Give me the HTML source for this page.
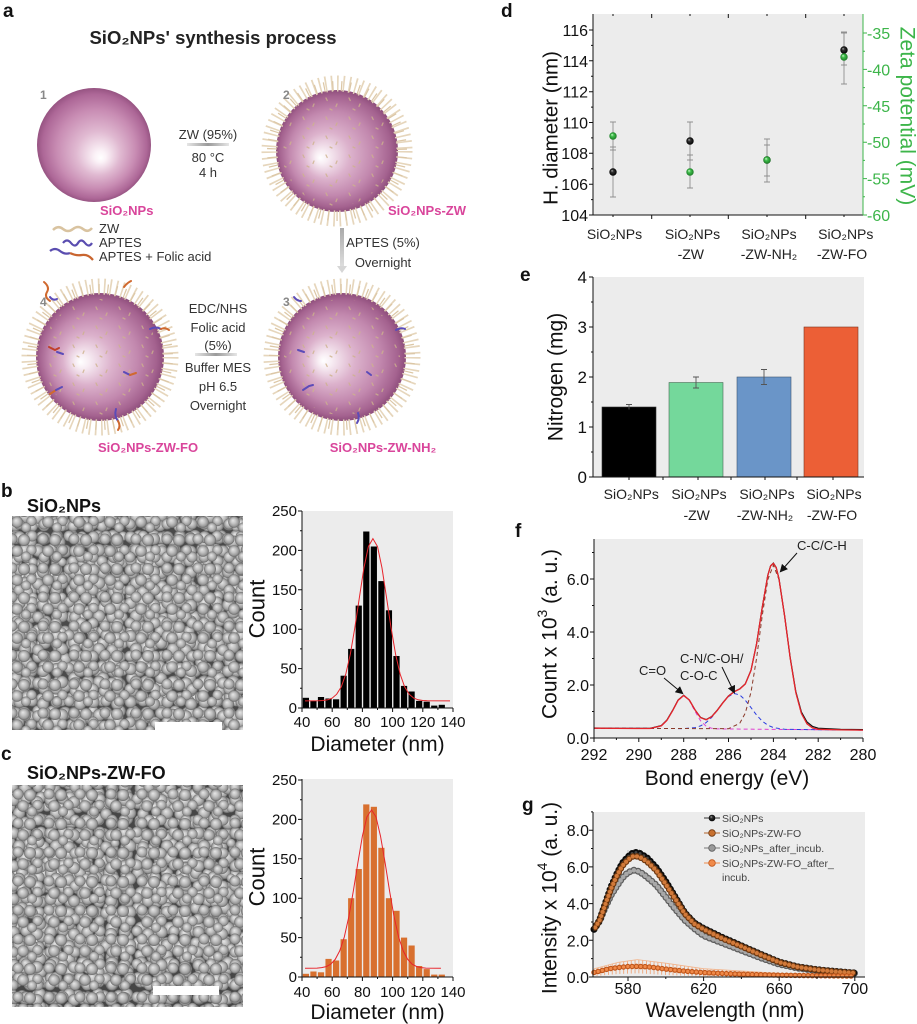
<!DOCTYPE html>
<html><head><meta charset="utf-8"><style>
html,body{margin:0;padding:0;background:#fff;}
svg{display:block;}
text{font-family:"Liberation Sans","DejaVu Sans",Arial,sans-serif;}
</style></head><body>
<svg width="917" height="1024" viewBox="0 0 917 1024" xmlns="http://www.w3.org/2000/svg">
<defs>
 <radialGradient id="s1" gradientUnits="userSpaceOnUse" cx="94" cy="145" r="58" fx="101" fy="158">
  <stop offset="0" stop-color="#ffffff"/><stop offset=".1" stop-color="#fbf2f7"/><stop offset=".38" stop-color="#e0b9d1"/><stop offset=".68" stop-color="#c88cb3"/><stop offset=".9" stop-color="#ad6797"/><stop offset="1" stop-color="#92507e"/>
 </radialGradient>
 <radialGradient id="s2" gradientUnits="userSpaceOnUse" cx="337" cy="151" r="62" fx="320" fy="158">
  <stop offset="0" stop-color="#ffffff"/><stop offset=".1" stop-color="#f8eef4"/><stop offset=".38" stop-color="#dcb2cc"/><stop offset=".68" stop-color="#c288ae"/><stop offset=".9" stop-color="#a4628f"/><stop offset="1" stop-color="#8a4a78"/>
 </radialGradient>
 <radialGradient id="s3" gradientUnits="userSpaceOnUse" cx="342" cy="357" r="65" fx="323" fy="361">
  <stop offset="0" stop-color="#ffffff"/><stop offset=".1" stop-color="#f8eef4"/><stop offset=".38" stop-color="#dcb2cc"/><stop offset=".68" stop-color="#c288ae"/><stop offset=".9" stop-color="#a4628f"/><stop offset="1" stop-color="#8a4a78"/>
 </radialGradient>
 <radialGradient id="s4" gradientUnits="userSpaceOnUse" cx="100" cy="357" r="65" fx="80" fy="362">
  <stop offset="0" stop-color="#ffffff"/><stop offset=".1" stop-color="#f8eef4"/><stop offset=".38" stop-color="#dcb2cc"/><stop offset=".68" stop-color="#c288ae"/><stop offset=".9" stop-color="#a4628f"/><stop offset="1" stop-color="#8a4a78"/>
 </radialGradient>
 <pattern id="speck" width="23" height="19" patternUnits="userSpaceOnUse">
  <path d="M4,3 l1.2,2.5 M15,9 l-1,2.5 M8,14 l2,1" stroke="#cdb28c" stroke-width="1.3" stroke-linecap="round" fill="none"/>
 </pattern>
 <linearGradient id="hb" x1="0" x2="1" y1="0" y2="0">
  <stop offset="0" stop-color="#e6e6e6"/><stop offset=".5" stop-color="#9a9a9a"/><stop offset="1" stop-color="#e6e6e6"/>
 </linearGradient>
 <linearGradient id="vb" x1="0" x2="0" y1="0" y2="1">
  <stop offset="0" stop-color="#aaaaaa"/><stop offset="1" stop-color="#dddddd"/>
 </linearGradient>
 <radialGradient id="semg" cx=".5" cy=".5" r=".5" fx=".4" fy=".36">
  <stop offset="0" stop-color="#e6e6e6"/><stop offset=".45" stop-color="#c2c2c2"/><stop offset=".8" stop-color="#999"/><stop offset="1" stop-color="#666"/>
 </radialGradient>
 <pattern id="p1" width="31" height="29" patternUnits="userSpaceOnUse">
  <circle cx="6" cy="6" r="5.5" fill="url(#semg)"/><circle cx="18" cy="7" r="6" fill="url(#semg)"/><circle cx="25.5" cy="17" r="5.2" fill="url(#semg)"/><circle cx="11" cy="18" r="5.8" fill="url(#semg)"/><circle cx="20" cy="23.5" r="5" fill="url(#semg)"/>
 </pattern>
 <pattern id="p2" width="37" height="33" patternUnits="userSpaceOnUse">
  <circle cx="6.5" cy="7" r="6" fill="url(#semg)"/><circle cx="19" cy="6" r="5.5" fill="url(#semg)"/><circle cx="30" cy="9" r="6" fill="url(#semg)"/><circle cx="12" cy="20" r="6.2" fill="url(#semg)"/><circle cx="25" cy="21" r="5.8" fill="url(#semg)"/><circle cx="6" cy="27" r="5.5" fill="url(#semg)"/><circle cx="31" cy="27" r="5.5" fill="url(#semg)"/>
 </pattern>
 <pattern id="p3" width="29" height="35" patternUnits="userSpaceOnUse">
  <circle cx="7" cy="6" r="6" fill="url(#semg)"/><circle cx="21" cy="10" r="6.5" fill="url(#semg)"/><circle cx="8" cy="19" r="5.5" fill="url(#semg)"/><circle cx="18" cy="25" r="6" fill="url(#semg)"/><circle cx="6" cy="29" r="5.5" fill="url(#semg)"/><circle cx="24" cy="30" r="4.5" fill="url(#semg)"/>
 </pattern>
 <pattern id="p4" width="41" height="27" patternUnits="userSpaceOnUse">
  <circle cx="6" cy="6" r="5.5" fill="url(#semg)"/><circle cx="19" cy="8" r="6.5" fill="url(#semg)"/><circle cx="33" cy="6" r="5.8" fill="url(#semg)"/><circle cx="11" cy="20" r="6" fill="url(#semg)"/><circle cx="26" cy="20" r="6.2" fill="url(#semg)"/><circle cx="36" cy="20" r="4.8" fill="url(#semg)"/>
 </pattern>
 <radialGradient id="bb" cx=".5" cy=".5" r=".5" fx=".35" fy=".3">
  <stop offset="0" stop-color="#bbbbbb"/><stop offset=".35" stop-color="#333"/><stop offset="1" stop-color="#000"/>
 </radialGradient>
 <radialGradient id="gb" cx=".5" cy=".5" r=".5" fx=".35" fy=".3">
  <stop offset="0" stop-color="#d8f8d8"/><stop offset=".4" stop-color="#40c04c"/><stop offset="1" stop-color="#1c7a26"/>
 </radialGradient>
 <pattern id="vl" width="3.8" height="10" patternUnits="userSpaceOnUse">
  <rect x="0" y="0" width="0.9" height="10" fill="#eea57a"/>
 </pattern>
 <marker id="ah" markerWidth="8" markerHeight="8" refX="6" refY="4" orient="auto" markerUnits="userSpaceOnUse">
  <path d="M0,0 L8,4 L0,8 z" fill="#111"/>
 </marker>
</defs>
<rect width="917" height="1024" fill="#fff"/>

<!-- ================= PANEL A ================= -->
<text x="3" y="17" font-size="19" font-weight="bold" fill="#111">a</text>
<text x="213" y="44" font-size="18.5" font-weight="bold" fill="#222" text-anchor="middle">SiO₂NPs' synthesis process</text>

<!-- sphere 1 -->
<circle cx="94" cy="145" r="57" fill="url(#s1)"/>
<text x="40" y="99" font-size="12" font-weight="bold" fill="#888">1</text>

<!-- arrow 1->2 -->
<text x="208" y="139" font-size="13" fill="#333" text-anchor="middle">ZW (95%)</text>
<rect x="187" y="143" width="42" height="3" fill="url(#hb)"/>
<text x="208" y="162" font-size="13" fill="#333" text-anchor="middle">80 °C</text>
<text x="208" y="177" font-size="13" fill="#333" text-anchor="middle">4 h</text>

<!-- sphere 2 -->
<circle cx="337" cy="151" r="61" fill="url(#s2)"/>
<circle cx="337" cy="151" r="55" fill="url(#speck)" opacity=".8"/>
<circle cx="337" cy="151" r="67.5" fill="none" stroke="#e6d6bc" stroke-width="16" stroke-dasharray="1.6 4.4"/>
<circle cx="337" cy="151" r="65" fill="none" stroke="#dcc7a6" stroke-width="10" stroke-dasharray="1.2 7.5" stroke-dashoffset="3"/>
<text x="283" y="99" font-size="12" font-weight="bold" fill="#888">2</text>

<text x="100" y="215" font-size="13" font-weight="bold" fill="#d9459b">SiO₂NPs</text>
<text x="388" y="215" font-size="13" font-weight="bold" fill="#d9459b">SiO₂NPs-ZW</text>

<!-- legend -->
<path d="M53,230 q5,-5 10,-1 t10,0 t10,0 t9,-1" fill="none" stroke="#d9c3a0" stroke-width="2.5"/>
<text x="99" y="233" font-size="13" fill="#333">ZW</text>
<path d="M63,243 q4,-5 8,0 t7,0 t7,0 t7,0" fill="none" stroke="#5a4db0" stroke-width="2.2"/>
<text x="99" y="247" font-size="13" fill="#333">APTES</text>
<path d="M50,251 q5,-4 10,0 t10,2" fill="none" stroke="#5a4db0" stroke-width="2.2"/>
<path d="M70,253 q6,3 12,2 t11,5" fill="none" stroke="#c9652f" stroke-width="2.2"/>
<text x="99" y="261" font-size="13" fill="#333">APTES + Folic acid</text>

<!-- vertical arrow 2->3 -->
<rect x="340" y="228" width="4" height="38" fill="url(#vb)"/>
<path d="M337,266 L347,266 L342,273 z" fill="#d6d6d6"/>
<text x="383" y="247" font-size="13" fill="#333" text-anchor="middle">APTES (5%)</text>
<text x="383" y="267" font-size="13" fill="#333" text-anchor="middle">Overnight</text>

<!-- sphere 4 -->
<circle cx="100" cy="357" r="64" fill="url(#s4)"/>
<circle cx="100" cy="357" r="58" fill="url(#speck)" opacity=".8"/>
<circle cx="100" cy="357" r="70.5" fill="none" stroke="#e6d6bc" stroke-width="16" stroke-dasharray="1.6 4.4"/>
<circle cx="100" cy="357" r="68" fill="none" stroke="#dcc7a6" stroke-width="10" stroke-dasharray="1.2 7.5" stroke-dashoffset="3"/>
<g fill="none" stroke-width="2" stroke-linecap="round">
 <path d="M44,282 q6,5 3,10 q-3,5 3,9" stroke="#d0692f"/>
 <path d="M50,297 q3,4 7,2" stroke="#5b4bb8"/>
 <path d="M124,287 q3,-4 7,-6" stroke="#d0692f"/>
 <path d="M150,329 q6,-3 11,0" stroke="#5b4bb8"/>
 <path d="M161,329 q4,-2 8,1" stroke="#d0692f"/>
 <path d="M49,347 l6,3 l4,-2" stroke="#c0402a"/>
 <path d="M57,352 l6,2" stroke="#5b4bb8"/>
 <path d="M124,372 l6,3" stroke="#5b4bb8"/><path d="M130,375 l6,-2" stroke="#d0692f"/>
 <path d="M50,394 l6,-4" stroke="#d0692f"/><path d="M56,390 l6,-3" stroke="#5b4bb8"/>
 <path d="M116,409 q-2,7 2,12" stroke="#5b4bb8"/><path d="M118,421 q3,5 0,9" stroke="#d0692f"/>
</g>
<text x="40" y="306" font-size="12" font-weight="bold" fill="#888">4</text>

<!-- arrow 3->4 text -->
<text x="218" y="313" font-size="13" fill="#333" text-anchor="middle">EDC/NHS</text>
<text x="218" y="332" font-size="13" fill="#333" text-anchor="middle">Folic acid</text>
<text x="218" y="350" font-size="13" fill="#333" text-anchor="middle">(5%)</text>
<rect x="195" y="353" width="42" height="3" fill="url(#hb)"/>
<text x="218" y="372" font-size="13" fill="#333" text-anchor="middle">Buffer MES</text>
<text x="218" y="391" font-size="13" fill="#333" text-anchor="middle">pH 6.5</text>
<text x="218" y="410" font-size="13" fill="#333" text-anchor="middle">Overnight</text>

<!-- sphere 3 -->
<circle cx="342" cy="357" r="64" fill="url(#s3)"/>
<circle cx="342" cy="357" r="58" fill="url(#speck)" opacity=".8"/>
<circle cx="342" cy="357" r="70.5" fill="none" stroke="#e6d6bc" stroke-width="16" stroke-dasharray="1.6 4.4"/>
<circle cx="342" cy="357" r="68" fill="none" stroke="#dcc7a6" stroke-width="10" stroke-dasharray="1.2 7.5" stroke-dashoffset="3"/>
<g fill="none" stroke="#5b4bb8" stroke-width="2" stroke-linecap="round">
 <path d="M294,297 q3,4 7,4"/>
 <path d="M396,330 q5,-3 9,-1"/>
 <path d="M298,350 l6,2"/>
 <path d="M303,390 l6,-4 l4,-1"/>
 <path d="M367,372 l4,3"/>
 <path d="M358,413 q2,5 -1,10"/>
</g>
<text x="283" y="306" font-size="12" font-weight="bold" fill="#888">3</text>

<text x="148" y="452" font-size="13" font-weight="bold" fill="#d9459b" text-anchor="middle">SiO₂NPs-ZW-FO</text>
<text x="383" y="452" font-size="13" font-weight="bold" fill="#d9459b" text-anchor="middle">SiO₂NPs-ZW-NH₂</text>

<!-- ================= PANEL B ================= -->
<text x="1" y="497" font-size="19" font-weight="bold" fill="#111">b</text>
<text x="27" y="512" font-size="18" font-weight="bold" fill="#111">SiO₂NPs</text>
<rect x="12" y="516" width="231" height="214" fill="#4a4a4a"/>
<rect x="7" y="513" width="231" height="214" transform="translate(5,3)" fill="url(#p4)"/>
<rect x="3" y="509" width="231" height="214" transform="translate(9,7)" fill="url(#p3)"/>
<rect x="-1" y="514" width="231" height="214" transform="translate(13,2)" fill="url(#p2)"/>
<rect x="6" y="505" width="231" height="214" transform="translate(6,11)" fill="url(#p1)"/>
<rect x="155" y="722" width="67" height="8" fill="#fff"/>

<!-- histogram b -->
<rect x="302" y="511" width="151" height="197" fill="#ececec"/>
<g fill="#000">
<rect x="302.8" y="697.8" width="6.2" height="10.2"/><rect x="310.35" y="700.9" width="6.2" height="7.1"/><rect x="317.9" y="697" width="6.2" height="11"/><rect x="325.45" y="698.5" width="6.2" height="9.5"/><rect x="333" y="699.3" width="6.2" height="8.7"/><rect x="340.55" y="675.7" width="6.2" height="32.3"/><rect x="348.1" y="648.9" width="6.2" height="59.1"/><rect x="355.65" y="605.6" width="6.2" height="102.4"/><rect x="363.2" y="531.5" width="6.2" height="176.5"/><rect x="370.75" y="546.5" width="6.2" height="161.5"/><rect x="378.3" y="581.1" width="6.2" height="126.9"/><rect x="385.85" y="610.3" width="6.2" height="97.7"/><rect x="393.4" y="656" width="6.2" height="52"/><rect x="400.95" y="685.9" width="6.2" height="22.1"/><rect x="408.5" y="691.5" width="6.2" height="16.5"/><rect x="416.05" y="700.9" width="6.2" height="7.1"/><rect x="423.6" y="701.7" width="6.2" height="6.3"/><rect x="431.15" y="705.6" width="6.2" height="2.4"/><rect x="438.7" y="704.8" width="6.2" height="3.2"/>
</g>
<polyline fill="none" stroke="#e8242b" stroke-width="1" points="305,700.9 318.6,700.7 323.1,700.5 327.7,699.8 332.2,698.1 336.7,694.2 341.3,686.8 345.8,674 350.3,654.3 354.8,627.9 359.4,597.4 363.9,568 368.4,546.5 372.9,538.6 377.5,546.5 382,568 386.5,597.4 391.1,627.9 395.6,654.3 400.1,674 404.6,686.8 409.2,694.2 413.7,698.1 418.2,699.8 422.8,700.5 427.3,700.7 450,700.9"/>
<g stroke="#111" stroke-width="1" fill="none">
 <path d="M302,511 V708 H453"/>
 <path d="M302,708 v4 M332.2,708 v4 M362.4,708 v4 M392.6,708 v4 M422.8,708 v4 M453,708 v4 M317.1,708 v2 M347.3,708 v2 M377.5,708 v2 M407.7,708 v2 M437.9,708 v2"/>
 <path d="M298,708 h4 M298,668.6 h4 M298,629.2 h4 M298,589.8 h4 M298,550.4 h4 M298,511 h4 M300,688.3 h2 M300,648.9 h2 M300,609.5 h2 M300,570.1 h2 M300,530.7 h2"/>
</g>
<g font-size="15" fill="#111" text-anchor="end">
 <text x="297" y="713">0</text><text x="297" y="673.6">50</text><text x="297" y="634.2">100</text><text x="297" y="594.8">150</text><text x="297" y="555.4">200</text><text x="297" y="516">250</text>
</g>
<g font-size="15" fill="#111" text-anchor="middle">
 <text x="302" y="727">40</text><text x="332.2" y="727">60</text><text x="362.4" y="727">80</text><text x="392.6" y="727">100</text><text x="422.8" y="727">120</text><text x="453" y="727">140</text>
</g>
<text x="377.5" y="751" font-size="21" fill="#111" text-anchor="middle">Diameter (nm)</text>
<text transform="translate(257,609) rotate(-90)" font-size="22" fill="#111" text-anchor="middle" dominant-baseline="central">Count</text>

<!-- ================= PANEL C ================= -->
<text x="1" y="760" font-size="19" font-weight="bold" fill="#111">c</text>
<text x="27" y="779" font-size="18" font-weight="bold" fill="#111">SiO₂NPs-ZW-FO</text>
<rect x="12" y="785" width="231" height="222" fill="#464646"/>
<rect x="1" y="781" width="231" height="222" transform="translate(11,4)" fill="url(#p4)"/>
<rect x="8" y="777" width="231" height="222" transform="translate(4,8)" fill="url(#p3)"/>
<rect x="5" y="784" width="231" height="222" transform="translate(7,1)" fill="url(#p2)"/>
<rect x="0" y="780" width="231" height="222" transform="translate(12,5)" fill="url(#p1)"/>
<rect x="153" y="986" width="66" height="9" fill="#fff"/>

<!-- histogram c -->
<rect x="302" y="779" width="151" height="198" fill="#ececec"/>
<g fill="#d8702f">
<rect x="302.8" y="973.8" width="6.2" height="3.2"/><rect x="310.35" y="971.5" width="6.2" height="5.5"/><rect x="317.9" y="972.3" width="6.2" height="4.7"/><rect x="325.45" y="958.9" width="6.2" height="18.1"/><rect x="333" y="960.5" width="6.2" height="16.5"/><rect x="340.55" y="939.2" width="6.2" height="37.8"/><rect x="348.1" y="898.2" width="6.2" height="78.8"/><rect x="355.65" y="869" width="6.2" height="108"/><rect x="363.2" y="804.4" width="6.2" height="172.6"/><rect x="370.75" y="806.8" width="6.2" height="170.2"/><rect x="378.3" y="847.8" width="6.2" height="129.2"/><rect x="385.85" y="898.2" width="6.2" height="78.8"/><rect x="393.4" y="910.8" width="6.2" height="66.2"/><rect x="400.95" y="937.6" width="6.2" height="39.4"/><rect x="408.5" y="945.5" width="6.2" height="31.5"/><rect x="416.05" y="966" width="6.2" height="11"/><rect x="423.6" y="969.1" width="6.2" height="7.9"/><rect x="431.15" y="974.6" width="6.2" height="2.4"/><rect x="438.7" y="974.6" width="6.2" height="2.4"/>
</g>
<polyline fill="none" stroke="#e8242b" stroke-width="1" points="305,968.3 317.1,968.1 321.6,967.6 326.2,966.6 330.7,964.2 335.2,959.4 339.7,950.9 344.3,937 348.8,916.9 353.3,891.2 357.9,862.7 362.4,836.1 366.9,816.9 371.5,809.9 376,816.9 380.5,836.1 385.1,862.7 389.6,891.2 394.1,916.9 398.6,937 403.2,950.9 407.7,959.4 412.2,964.2 416.8,966.6 421.3,967.6 425.8,968.1 440.9,968.3"/>
<g stroke="#111" stroke-width="1" fill="none">
 <path d="M302,779 V977 H453"/>
 <path d="M302,977 v4 M332.2,977 v4 M362.4,977 v4 M392.6,977 v4 M422.8,977 v4 M453,977 v4 M317.1,977 v2 M347.3,977 v2 M377.5,977 v2 M407.7,977 v2 M437.9,977 v2"/>
 <path d="M298,977 h4 M298,937.6 h4 M298,898.2 h4 M298,858.8 h4 M298,819.4 h4 M298,780 h4 M300,957.3 h2 M300,917.9 h2 M300,878.5 h2 M300,839.1 h2 M300,799.7 h2"/>
</g>
<g font-size="15" fill="#111" text-anchor="end">
 <text x="297" y="982">0</text><text x="297" y="942.6">50</text><text x="297" y="903.2">100</text><text x="297" y="863.8">150</text><text x="297" y="824.4">200</text><text x="297" y="785">250</text>
</g>
<g font-size="15" fill="#111" text-anchor="middle">
 <text x="302" y="997">40</text><text x="332.2" y="997">60</text><text x="362.4" y="997">80</text><text x="392.6" y="997">100</text><text x="422.8" y="997">120</text><text x="453" y="997">140</text>
</g>
<text x="377.5" y="1019" font-size="21" fill="#111" text-anchor="middle">Diameter (nm)</text>
<text transform="translate(257,877) rotate(-90)" font-size="22" fill="#111" text-anchor="middle" dominant-baseline="central">Count</text>

<!-- ================= PANEL D ================= -->
<text x="501" y="17" font-size="19" font-weight="bold" fill="#111">d</text>
<rect x="593" y="14" width="270" height="201" fill="#ececec"/>
<g stroke="#111" stroke-width="1" fill="none">
 <path d="M593,14 V215 H863"/>
 <path d="M589,215 h4 M589,184.2 h4 M589,153.3 h4 M589,122.5 h4 M589,91.7 h4 M589,60.8 h4 M589,30 h4 M591,199.6 h2 M591,168.7 h2 M591,137.9 h2 M591,107.1 h2 M591,76.2 h2 M591,45.4 h2"/>
 <path d="M651.7,215 v4 M728.3,215 v4 M805.7,215 v4 M613,215 v2 M690,215 v2 M767,215 v2 M844,215 v2"/>
 <path d="M651.7,14 v4 M728.3,14 v4 M805.7,14 v4 M613,14 v2 M690,14 v2 M767,14 v2 M844,14 v2"/>
</g>
<g stroke="#3db54a" stroke-width="1" fill="none">
 <path d="M863,14 V215"/>
 <path d="M863,33 h4 M863,69.4 h4 M863,105.8 h4 M863,142.2 h4 M863,178.6 h4 M863,215 h4 M863,51.2 h2 M863,87.6 h2 M863,124 h2 M863,160.4 h2 M863,196.8 h2"/>
</g>
<g stroke="#8f8f8f" stroke-width="0.9" fill="none">
 <path d="M613,147 V197 M610,147 h6 M610,197 h6"/>
 <path d="M613,122 V150 M610,122 h6 M610,150 h6"/>
 <path d="M690,122 V160 M687,122 h6 M687,160 h6"/>
 <path d="M690,155 V188 M687,155 h6 M687,188 h6"/>
 <path d="M767,145 V176 M764,145 h6 M764,176 h6"/>
 <path d="M767,139 V182 M764,139 h6 M764,182 h6"/>
 <path d="M844,32 V65 M841,32 h6 M841,65 h6"/>
 <path d="M844,33 V84 M841,33 h6 M841,84 h6"/>
</g>
<circle cx="613" cy="172" r="3.7" fill="url(#bb)"/>
<circle cx="690" cy="141" r="3.7" fill="url(#bb)"/>
<circle cx="767" cy="160" r="3.7" fill="url(#bb)"/>
<circle cx="844" cy="50" r="3.7" fill="url(#bb)"/>
<circle cx="613" cy="136" r="3.7" fill="url(#gb)"/>
<circle cx="690" cy="172" r="3.7" fill="url(#gb)"/>
<circle cx="767" cy="160" r="3.7" fill="url(#gb)"/>
<circle cx="844" cy="57" r="3.7" fill="url(#gb)"/>
<g font-size="16" fill="#111" text-anchor="end">
 <text x="588" y="221">104</text><text x="588" y="190">106</text><text x="588" y="159">108</text><text x="588" y="128.5">110</text><text x="588" y="97.7">112</text><text x="588" y="66.8">114</text><text x="588" y="36">116</text>
</g>
<g font-size="16" fill="#3db54a">
 <text x="867" y="39">-35</text><text x="867" y="75.4">-40</text><text x="867" y="111.8">-45</text><text x="867" y="148.2">-50</text><text x="867" y="184.6">-55</text><text x="867" y="221">-60</text>
</g>
<text transform="translate(551,128) rotate(-90)" font-size="20.5" fill="#111" text-anchor="middle" dominant-baseline="central">H. diameter (nm)</text>
<text transform="translate(907,116) rotate(90)" font-size="21" fill="#3db54a" text-anchor="middle" dominant-baseline="central">Zeta potential (mV)</text>
<g font-size="14" fill="#222" text-anchor="middle">
 <text x="614.5" y="239">SiO₂NPs</text><text x="692.5" y="239">SiO₂NPs</text><text x="769" y="239">SiO₂NPs</text><text x="845.8" y="239">SiO₂NPs</text>
 <text x="690.8" y="259">-ZW</text><text x="769" y="259">-ZW-NH₂</text><text x="842" y="259">-ZW-FO</text>
</g>

<!-- ================= PANEL E ================= -->
<text x="520" y="281" font-size="19" font-weight="bold" fill="#111">e</text>
<rect x="593" y="277" width="271" height="200" fill="#ececec"/>
<rect x="602" y="407" width="54" height="70" fill="#000" stroke="#333" stroke-width=".6"/>
<rect x="669" y="382.5" width="54" height="94.5" fill="#74d89b" stroke="#4a6a55" stroke-width=".6"/>
<rect x="737" y="377" width="54" height="100" fill="#6a95c8" stroke="#3e5570" stroke-width=".6"/>
<rect x="804" y="327" width="54" height="150" fill="#ec5f36" stroke="#7a3520" stroke-width=".6"/>
<g stroke="#555" stroke-width="0.9" fill="none">
 <path d="M629,404.5 V409.5 M626,404.5 h6"/>
 <path d="M696,377 V388 M693,377 h6 M693,388 h6"/>
 <path d="M764,369.5 V384.5 M761,369.5 h6 M761,384.5 h6"/>
</g>
<g stroke="#111" stroke-width="1" fill="none">
 <path d="M593,277 V477 H864"/>
 <path d="M589,477 h4 M589,427 h4 M589,377 h4 M589,327 h4 M589,277 h4 M591,452 h2 M591,402 h2 M591,352 h2 M591,302 h2"/>
 <path d="M629,477 v3 M663,477 v3 M698,477 v3 M731,477 v3 M765,477 v3 M797,477 v3 M833,477 v3"/>
</g>
<g font-size="17" fill="#111" text-anchor="end">
 <text x="587" y="483">0</text><text x="587" y="433">1</text><text x="587" y="383">2</text><text x="587" y="333">3</text><text x="587" y="283">4</text>
</g>
<text transform="translate(556,377) rotate(-90)" font-size="21" fill="#111" text-anchor="middle" dominant-baseline="central">Nitrogen (mg)</text>
<g font-size="14" fill="#222" text-anchor="middle">
 <text x="631.3" y="499">SiO₂NPs</text><text x="699" y="499">SiO₂NPs</text><text x="767" y="499">SiO₂NPs</text><text x="834" y="499">SiO₂NPs</text>
 <text x="696.7" y="520">-ZW</text><text x="765" y="520">-ZW-NH₂</text><text x="832" y="520">-ZW-FO</text>
</g>

<!-- ================= PANEL F ================= -->
<text x="515" y="537" font-size="19" font-weight="bold" fill="#111">f</text>
<rect x="594" y="539" width="269" height="199" fill="#ececec"/>
<polyline fill="none" stroke="#e040d0" stroke-width="1" stroke-dasharray="4 3" points="594,728.2 650.1,728.5 661.3,725.9 666.9,720.4 672.5,710.9 678.1,700.4 683.7,695.7 689.3,700.4 694.9,711 700.5,720.7 706.1,726.2 711.7,728.3 717.3,728.9 863,730.1"/>
<polyline fill="none" stroke="#2a3de0" stroke-width="1" stroke-dasharray="4 3" points="594,728.2 683.7,728.6 694.9,727.6 700.5,725.9 706.1,722.6 711.7,717.4 717.3,710.4 722.9,702.8 728.5,696.5 734.1,693.5 739.7,694.9 745.3,700.2 751,707.6 756.6,715.1 762.2,721.1 767.8,725.2 773.4,727.6 784.6,729.3 818.2,729.7 863,730.1"/>
<polyline fill="none" stroke="#8a3a2a" stroke-width="1" stroke-dasharray="4 3" points="594,728.2 728.5,728.7 739.7,723.4 745.3,713.1 751,692.2 756.6,658.1 762.2,616 767.8,579.7 773.4,565.1 779,579.7 784.6,616.2 790.2,658.3 795.8,692.5 801.4,713.5 807,723.8 812.6,728 818.2,729.3 863,730.1"/>
<polyline fill="none" stroke="#111" stroke-width="1.2" points="594,728 616.4,728.3 638.8,728.4 650.1,728.3 661.3,725.6 666.9,720 672.5,710.6 678.1,700 683.7,695.3 689.3,700 694.9,709.7 700.5,717.4 706.1,719.6 711.7,716.5 717.3,710.1 722.9,702.6 728.5,695.9 734.1,691.6 739.7,688.9 745.3,683.8 751,670.2 756.6,643.6 762.2,607.6 767.8,575.3 770.6,565.8 773.4,563.1 776.2,567.5 779,578.8 784.6,615.7 790.2,657.6 795.8,691.5 801.4,712 807,722 812.6,726.5 818.2,728.2 840.6,729.3 863,729.6"/>
<polyline fill="none" stroke="#e8242b" stroke-width="1.3" stroke-linejoin="round" points="594,728.2 616.4,728.4 638.8,728.5 650.1,728.5 661.3,725.9 666.9,720.4 672.5,710.9 678.1,700.3 683.7,695.5 689.3,700 694.9,709.7 700.5,717.6 706.1,719.8 711.7,716.7 717.3,710.3 722.9,702.8 728.5,696.1 734.1,691.8 739.7,689.1 745.3,684 751,670.4 756.6,643.8 762.2,607.8 767.8,575.5 770.6,566 773.4,563.3 776.2,567.7 779,579 784.6,615.9 790.2,658.2 795.8,692.5 801.4,713.5 807,723.8 812.6,728 818.2,729.3 840.6,729.9 863,730.1"/>
<g stroke="#111" stroke-width="1" fill="none">
 <path d="M594,539 V738 H863"/>
 <path d="M590,738 h4 M590,685 h4 M590,632 h4 M590,579 h4 M592,711.5 h2 M592,658.5 h2 M592,605.5 h2 M592,552.5 h2"/>
 <path d="M594,738 v4 M638.8,738 v4 M683.7,738 v4 M728.5,738 v4 M773.4,738 v4 M818.2,738 v4 M863,738 v4 M616.4,738 v2 M661.3,738 v2 M706.1,738 v2 M751,738 v2 M795.8,738 v2 M840.6,738 v2"/>
</g>
<g font-size="16" fill="#111" text-anchor="end">
 <text x="589" y="744">0.0</text><text x="589" y="691">2.0</text><text x="589" y="638">4.0</text><text x="589" y="585">6.0</text>
</g>
<g font-size="16" fill="#111" text-anchor="middle">
 <text x="594" y="760">292</text><text x="638.8" y="760">290</text><text x="683.7" y="760">288</text><text x="728.5" y="760">286</text><text x="773.4" y="760">284</text><text x="818.2" y="760">282</text><text x="863" y="760">280</text>
</g>
<text x="727" y="785" font-size="21" fill="#111" text-anchor="middle">Bond energy (eV)</text>
<text transform="translate(550,634) rotate(-90)" font-size="21" fill="#111" text-anchor="middle" dominant-baseline="central">Count x 10<tspan font-size="14" dy="-8">3</tspan><tspan dy="8"> (a. u.)</tspan></text>
<g font-size="13" fill="#222">
 <text x="797" y="550">C-C/C-H</text>
 <text x="639" y="675">C=O</text>
 <text x="680" y="663">C-N/C-OH/</text>
 <text x="680" y="680">C-O-C</text>
</g>
<g stroke="#111" stroke-width="1" fill="none" marker-end="url(#ah)">
 <path d="M797,553 L781,571"/>
 <path d="M664,678 L682,693"/>
 <path d="M722,667 L734,692"/>
</g>

<!-- ================= PANEL G ================= -->
<text x="522" y="811" font-size="19" font-weight="bold" fill="#111">g</text>
<rect x="593" y="812" width="272" height="165" fill="#ececec"/>
<polygon fill="url(#vl)" points="594,968.7 618.6,962.3 637.5,959.6 665.8,963.2 703.6,968.7 779.2,973.3 854.8,975.2 854.8,977 703.6,976.5 665.8,975 637.5,973.3 618.6,974 594,976.1"/>
<polyline fill="none" stroke="#f2b48c" stroke-width=".8" points="594,968.7 618.6,962.3 637.5,959.6 665.8,963.2 703.6,968.7 779.2,973.3 854.8,975.2"/>
<path d="M628,850 V862 M633.7,849 V856 M639.3,849 V857" stroke="#b0b0b0" stroke-width=".8"/>
<g fill="none" stroke-linecap="round" stroke-linejoin="round">
 <path d="M594,929.3 L599.7,921 L605.3,907.3 L611,895.3 L616.7,886.2 L622.3,877.9 L628,872.4 L633.7,870.2 L639.3,871.5 L646.9,877 L656.4,885.3 L665.8,897.2 L675.3,909.1 L684.7,920.1 L694.2,928.4 L703.6,935.7 L722.5,943.1 L741.4,950.4 L760.3,957.7 L779.2,964.2 L798.1,968.2 L817,970.6 L835.9,972 L854.8,973.3" stroke="#5d5d5d" stroke-width="7" stroke-dasharray="0 4.3"/>
 <path d="M594,929.3 L599.7,921 L605.3,907.3 L611,895.3 L616.7,886.2 L622.3,877.9 L628,872.4 L633.7,870.2 L639.3,871.5 L646.9,877 L656.4,885.3 L665.8,897.2 L675.3,909.1 L684.7,920.1 L694.2,928.4 L703.6,935.7 L722.5,943.1 L741.4,950.4 L760.3,957.7 L779.2,964.2 L798.1,968.2 L817,970.6 L835.9,972 L854.8,973.3" stroke="#a8a8a8" stroke-width="4.5" stroke-dasharray="0 4.3"/>
 <path d="M594,929.3 L599.7,920.1 L605.3,903.6 L611,887.1 L616.7,874.2 L622.3,863.2 L628,856.8 L633.7,852.2 L639.3,853.1 L646.9,857.7 L656.4,867.8 L665.8,881.6 L675.3,897.2 L684.7,912.8 L694.2,922.9 L703.6,928.4 L722.5,937.5 L741.4,945.8 L760.3,954.1 L779.2,962 L798.1,966.9 L817,969.7 L835.9,971.5 L854.8,973" stroke="#0a0a0a" stroke-width="7" stroke-dasharray="0 4.3"/>
 <path d="M594,929.3 L599.7,920.1 L605.3,903.6 L611,887.1 L616.7,874.2 L622.3,863.2 L628,856.8 L633.7,852.2 L639.3,853.1 L646.9,857.7 L656.4,867.8 L665.8,881.6 L675.3,897.2 L684.7,912.8 L694.2,922.9 L703.6,928.4 L722.5,937.5 L741.4,945.8 L760.3,954.1 L779.2,962 L798.1,966.9 L817,969.7 L835.9,971.5 L854.8,973" stroke="#444" stroke-width="3" stroke-dasharray="0 4.3"/>
 <path d="M594,929.3 L599.7,920.1 L605.3,904.5 L611,888.9 L616.7,876.1 L622.3,866 L628,859.6 L633.7,855.9 L639.3,856.8 L646.9,861.4 L656.4,870.6 L665.8,884.3 L675.3,899 L684.7,913.7 L694.2,923.8 L703.6,929.3 L722.5,938.5 L741.4,946.4 L760.3,954.6 L779.2,962.3 L798.1,967.1 L817,969.8 L835.9,971.7 L854.8,973" stroke="#6e3810" stroke-width="6.5" stroke-dasharray="0 4.3" stroke-dashoffset="2.1"/>
 <path d="M594,929.3 L599.7,920.1 L605.3,904.5 L611,888.9 L616.7,876.1 L622.3,866 L628,859.6 L633.7,855.9 L639.3,856.8 L646.9,861.4 L656.4,870.6 L665.8,884.3 L675.3,899 L684.7,913.7 L694.2,923.8 L703.6,929.3 L722.5,938.5 L741.4,946.4 L760.3,954.6 L779.2,962.3 L798.1,967.1 L817,969.8 L835.9,971.7 L854.8,973" stroke="#d27a3a" stroke-width="4.2" stroke-dasharray="0 4.3" stroke-dashoffset="2.1"/>
 <path d="M594,972.4 L601.5,970.6 L609.1,968.7 L618.6,967.5 L628,966.5 L637.5,966.4 L646.9,966.7 L656.4,967.8 L665.8,969.1 L684.7,971.1 L703.6,972.6 L741.4,974.2 L779.2,975.2 L817,975.7 L854.8,976.1" stroke="#c0561a" stroke-width="5.5" stroke-dasharray="0 4.3"/>
 <path d="M594,972.4 L601.5,970.6 L609.1,968.7 L618.6,967.5 L628,966.5 L637.5,966.4 L646.9,966.7 L656.4,967.8 L665.8,969.1 L684.7,971.1 L703.6,972.6 L741.4,974.2 L779.2,975.2 L817,975.7 L854.8,976.1" stroke="#f08a4a" stroke-width="3.2" stroke-dasharray="0 4.3"/>
</g>
<g stroke-width="1" fill="none">
 <path d="M704,818 h16" stroke="#333"/><path d="M704,833 h16" stroke="#b0622a"/><path d="M704,848 h16" stroke="#777"/><path d="M704,863 h16" stroke="#ee8a4a"/>
</g>
<circle cx="712" cy="818" r="3.3" fill="url(#bb)"/>
<circle cx="712" cy="833" r="3.3" fill="#c8702f" stroke="#6e3810" stroke-width=".8"/>
<circle cx="712" cy="848" r="3.3" fill="#9a9a9a" stroke="#5d5d5d" stroke-width=".8"/>
<circle cx="712" cy="863" r="3.3" fill="#f08a4a" stroke="#c0561a" stroke-width=".8"/>
<g font-size="10.5" fill="#444">
 <text x="722" y="822">SiO₂NPs</text>
 <text x="722" y="837">SiO₂NPs-ZW-FO</text>
 <text x="722" y="852">SiO₂NPs_after_incub.</text>
 <text x="722" y="867">SiO₂NPs-ZW-FO_after_</text>
 <text x="722" y="881">incub.</text>
</g>
<g stroke="#111" stroke-width="1" fill="none">
 <path d="M593,812 V977 H865"/>
 <path d="M589,977 h4 M589,940.3 h4 M589,903.6 h4 M589,866.9 h4 M589,830.2 h4 M591,958.65 h2 M591,921.95 h2 M591,885.25 h2 M591,848.55 h2 M591,811.85 h2"/>
 <path d="M628,977 v4 M703.6,977 v4 M779.2,977 v4 M854.8,977 v4 M665.8,977 v2 M741.4,977 v2 M817,977 v2"/>
</g>
<g font-size="16" fill="#111" text-anchor="end">
 <text x="589" y="983">0.0</text><text x="589" y="946.3">2.0</text><text x="589" y="909.6">4.0</text><text x="589" y="872.9">6.0</text><text x="589" y="836.2">8.0</text>
</g>
<g font-size="16" fill="#111" text-anchor="middle">
 <text x="628" y="994">580</text><text x="703.6" y="994">620</text><text x="779.2" y="994">660</text><text x="854.8" y="994">700</text>
</g>
<text x="725" y="1017" font-size="21" fill="#111" text-anchor="middle">Wavelength (nm)</text>
<text transform="translate(550,898) rotate(-90)" font-size="21" fill="#111" text-anchor="middle" dominant-baseline="central">Intensity x 10<tspan font-size="14" dy="-8">4</tspan><tspan dy="8"> (a. u.)</tspan></text>
</svg>
</body></html>
